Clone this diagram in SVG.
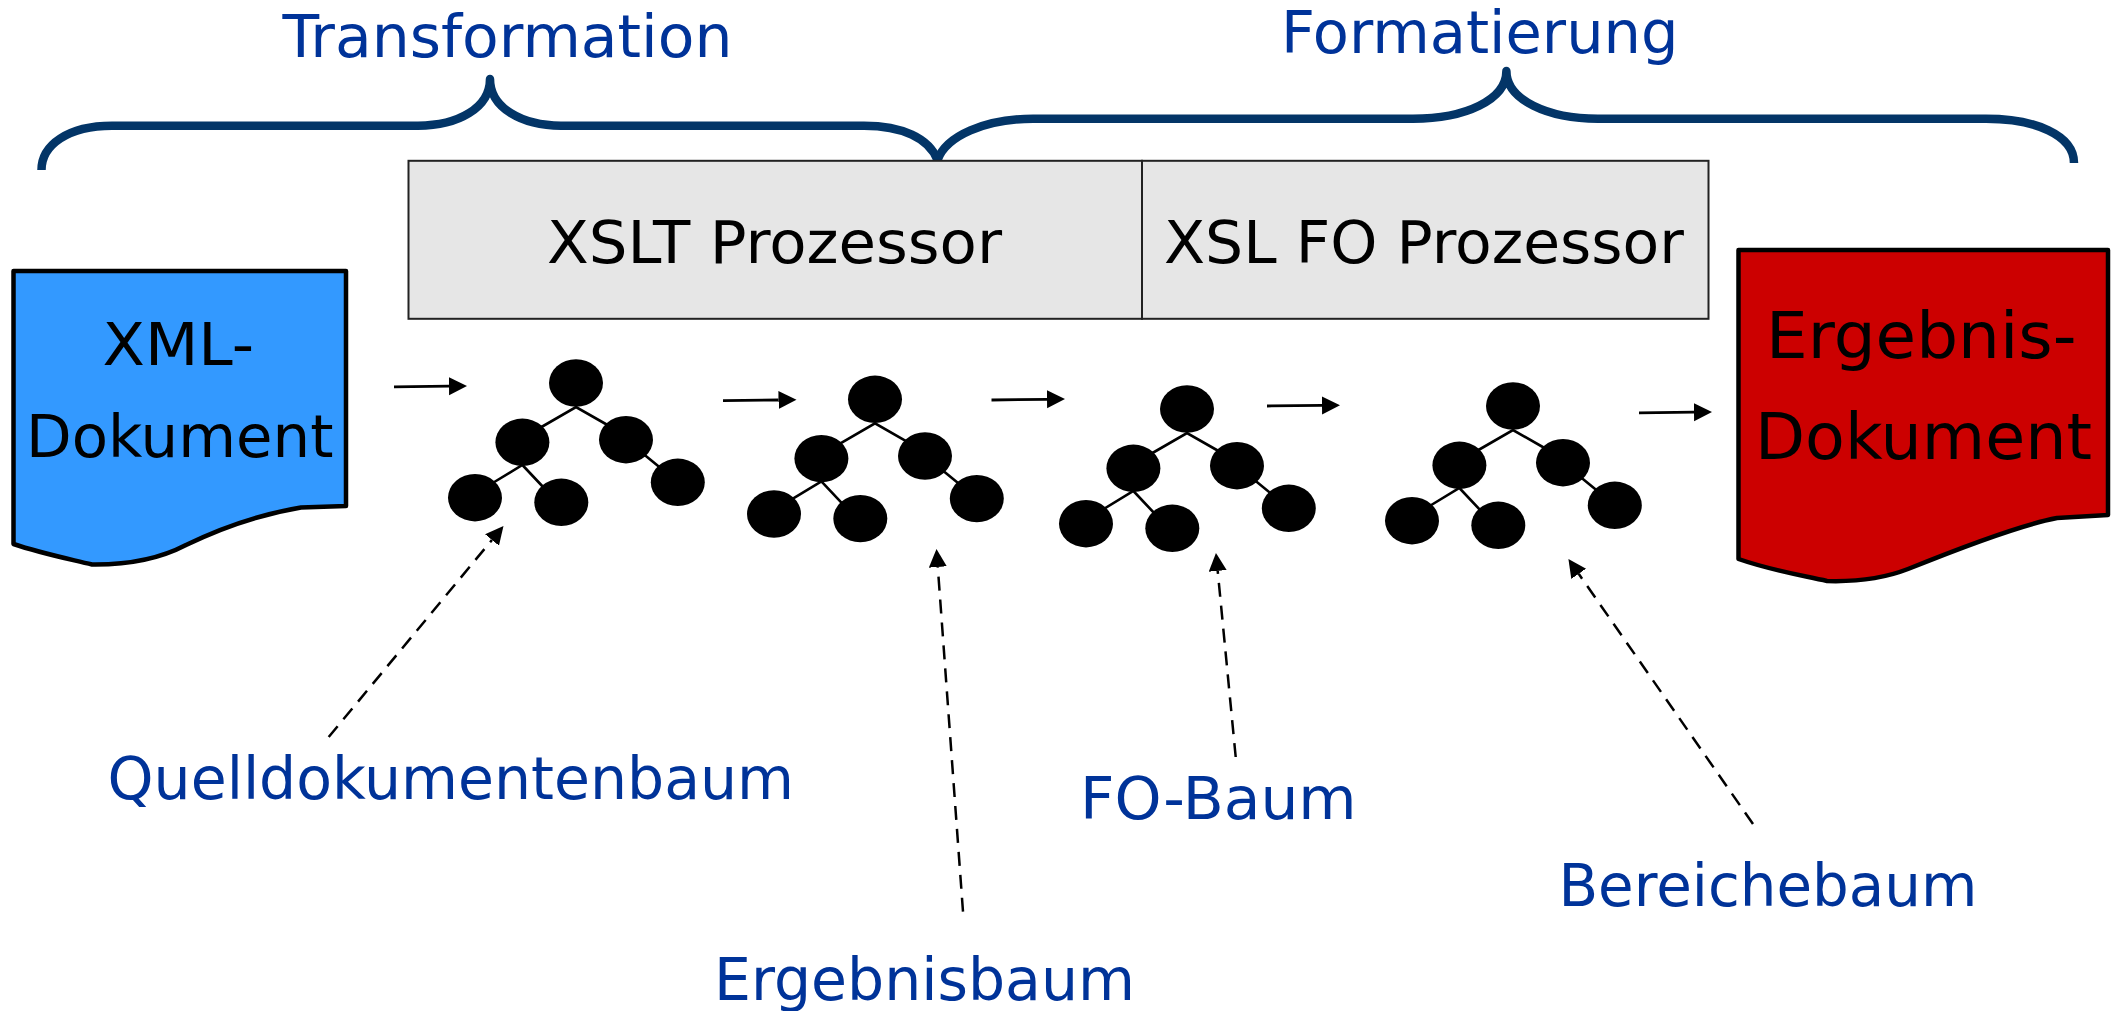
<svg xmlns="http://www.w3.org/2000/svg" xmlns:xlink="http://www.w3.org/1999/xlink" width="2117" height="1011" viewBox="0 0 2117 1011">
<style>
text{font-family:"DejaVu Sans",Verdana,sans-serif;}
.lbl{fill:#003399;font-size:59px;}
.blk{fill:#000;font-size:59px;}
.big{fill:#000;font-size:64px;}
.brace{fill:none;stroke:#033567;stroke-width:8.5;stroke-linecap:butt;stroke-linejoin:round;}
.box{fill:#E6E6E6;stroke:#222;stroke-width:2;}
.doc{stroke:#000;stroke-width:4.5;stroke-linejoin:round;}
.solid{stroke:#000;stroke-width:2.8;fill:none;}
.dash{stroke:#000;stroke-width:2.5;fill:none;stroke-dasharray:14 9;}
.edge{stroke:#000;stroke-width:2.6;fill:none;}
</style>
<defs>
<marker id="head" markerUnits="userSpaceOnUse" markerWidth="20" markerHeight="20" refX="0" refY="9" orient="auto"><path d="M0,0 L18,9 L0,18 Z" fill="#000"/></marker>
<g id="tree">
<path class="edge" d="M-38,46 L0,24 L35,44 M-85,101 L-53.6,82 L-31,106 M65,69 L87,87"/>
<ellipse cx="0" cy="0" rx="27" ry="23.7"/>
<ellipse cx="-53.6" cy="59.3" rx="27" ry="23.7"/>
<ellipse cx="50" cy="56.7" rx="27" ry="23.7"/>
<ellipse cx="-101" cy="114.7" rx="27" ry="23.7"/>
<ellipse cx="-14.7" cy="119.3" rx="27" ry="23.7"/>
<ellipse cx="101.8" cy="99.3" rx="27" ry="23.7"/>
</g>
</defs>
<rect width="2117" height="1011" fill="#fff"/>
<g id="label-transformation"><text class="lbl" x="282.5" y="57" textLength="450" lengthAdjust="spacingAndGlyphs">Transformation</text></g>
<g id="label-formatierung"><text class="lbl" x="1281" y="52.7" textLength="397.5" lengthAdjust="spacingAndGlyphs">Formatierung</text></g>
<g id="brace-transformation"><path class="brace" d="M41.5,170 C41.5,145 68,125.7 112,125.7 H418 C458,125.7 490,108 490,79 C490,108 522,125.7 561,125.7 H864 C902,125.7 929,138 937.5,160"/></g>
<g id="brace-formatierung"><path class="brace" d="M937.5,160 C946,136 985,118.7 1033,118.7 H1413 C1465,118.7 1506.4,100 1506.4,71 C1506.4,100 1548,118.7 1598,118.7 H1986 C2035,118.7 2074,135 2074,163"/></g>
<g id="xslt-prozessor"><rect class="box" x="408.5" y="160.8" width="733.5" height="158"/><text class="blk" x="547" y="262.7" textLength="455" lengthAdjust="spacingAndGlyphs">XSLT Prozessor</text></g>
<g id="xslfo-prozessor"><rect class="box" x="1142" y="160.8" width="566.5" height="158"/><text class="blk" x="1164" y="262.7" textLength="520" lengthAdjust="spacingAndGlyphs">XSL FO Prozessor</text></g>
<g id="xml-dokument"><path class="doc" fill="#3399FF" d="M13.5,271 H346 V506 L301,507.5 C262,514 225,526 186,545 C165,556 135,565 92,564.5 C65,558 40,553 13.5,544 Z"/><text class="blk" x="102.5" y="365" textLength="151.5" lengthAdjust="spacingAndGlyphs">XML-</text><text class="blk" x="26" y="457" textLength="307.5" lengthAdjust="spacingAndGlyphs">Dokument</text></g>
<g id="ergebnis-dokument"><path class="doc" fill="#CC0000" d="M1738.5,250 H2108 V515 L2057,518 C2020,525 1960,548 1908,569 C1885,578 1860,582 1827,581 C1795,574 1770,570 1738.5,559 Z"/><text class="big" x="1766" y="358" textLength="310.5" lengthAdjust="spacingAndGlyphs">Ergebnis-</text><text class="big" x="1755" y="458.7" textLength="337" lengthAdjust="spacingAndGlyphs">Dokument</text></g>
<g id="tree-quelldokument"><use xlink:href="#tree" href="#tree" x="576" y="383"/></g>
<g id="tree-ergebnis"><use xlink:href="#tree" href="#tree" x="875" y="399.3"/></g>
<g id="tree-fo"><use xlink:href="#tree" href="#tree" x="1187" y="409"/></g>
<g id="tree-bereiche"><use xlink:href="#tree" href="#tree" x="1513" y="406"/></g>
<g id="connectors">
<line class="solid" x1="394" y1="386.8" x2="449" y2="386.2" marker-end="url(#head)"/>
<line class="solid" x1="723" y1="400.7" x2="778.5" y2="400" marker-end="url(#head)"/>
<line class="solid" x1="991.5" y1="400" x2="1047" y2="399.3" marker-end="url(#head)"/>
<line class="solid" x1="1267" y1="406" x2="1322" y2="405.4" marker-end="url(#head)"/>
<line class="solid" x1="1639" y1="412.8" x2="1694" y2="412.2" marker-end="url(#head)"/>
<line class="dash" x1="328.7" y1="737" x2="492" y2="539.9" marker-end="url(#head)"/>
<line class="dash" x1="963" y1="911.7" x2="937.8" y2="567" marker-end="url(#head)"/>
<line class="dash" x1="1235.7" y1="757" x2="1217.7" y2="570.9" marker-end="url(#head)"/>
<line class="dash" x1="1753" y1="824" x2="1578.7" y2="573.8" marker-end="url(#head)"/>
</g>
<g id="label-quell"><text class="lbl" x="107.6" y="799" textLength="686.4" lengthAdjust="spacingAndGlyphs">Quelldokumentenbaum</text></g>
<g id="label-ergebnis"><text class="lbl" x="714" y="1000" textLength="421" lengthAdjust="spacingAndGlyphs">Ergebnisbaum</text></g>
<g id="label-fo"><text class="lbl" x="1080" y="818.7" textLength="276.6" lengthAdjust="spacingAndGlyphs">FO-Baum</text></g>
<g id="label-bereiche"><text class="lbl" x="1558.4" y="905.7" textLength="419" lengthAdjust="spacingAndGlyphs">Bereichebaum</text></g>
</svg>
